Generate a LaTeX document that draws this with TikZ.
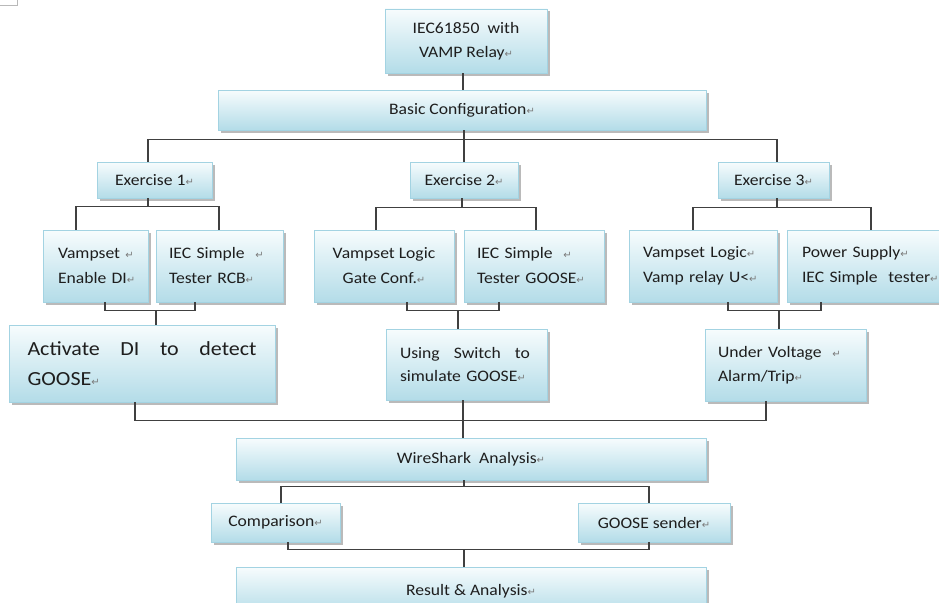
\documentclass[tikz,border=0pt]{standalone}
\usepackage{fontspec}
\setmainfont{Carlito}[FakeStretch=1.1]
\newfontfamily\arrowfont{DejaVu Sans}
\usetikzlibrary{shadows}
\definecolor{boxtop}{HTML}{F7FCFD}
\definecolor{boxbot}{HTML}{B3DCE8}
\definecolor{boxedge}{HTML}{A3D3E2}
\definecolor{linegray}{HTML}{404040}
\definecolor{txt}{HTML}{1E1E1E}
\definecolor{markgray}{HTML}{7A7A7A}
\newcommand\wret{{\arrowfont\fontsize{10}{10}\selectfont\textcolor{markgray}{↵}}}
\begin{document}
\begin{tikzpicture}[x=1pt,y=-1pt,
  box/.style={draw=boxedge, line width=0.8pt, top color=boxtop, bottom color=boxbot,
    drop shadow={shadow xshift=2.5pt, shadow yshift=-2.5pt, fill=black!45, opacity=0.6},
    inner sep=0pt, font=\fontsize{16}{25}\selectfont, text=txt},
  lbox/.style={box, align=left},
  cbox/.style={box, align=center},
  conn/.style={draw=linegray, line width=1.4pt}]
\fill[white] (0,0) rectangle (939,602);
\useasboundingbox (0,0) rectangle (939,602);
\clip (0,0) rectangle (939,602);
\draw[gray!55, line width=1pt] (0,5.5) -- (17,5.5) -- (17,0);

\node[cbox, minimum width=162pt, minimum height=64pt, font=\fontsize{16}{24}\selectfont] (top) at (466,41) {IEC61850\ \ with\\VAMP Relay\wret};
\node[cbox, minimum width=488pt, minimum height=40pt] (basic) at (462,110) {Basic Configuration\wret};
\node[cbox, minimum width=115pt, minimum height=36pt] (ex1) at (154.5,180) {Exercise 1\wret};
\node[cbox, minimum width=108pt, minimum height=36pt] (ex2) at (464,180) {Exercise 2\wret};
\node[cbox, minimum width=111pt, minimum height=36pt] (ex3) at (773.5,180) {Exercise 3\wret};

\node[lbox, minimum width=105pt, minimum height=72pt, text width=75pt] (s11) at (95.5,266) {\mbox{Vampset \wret}\\\mbox{Enable DI\wret}};
\node[lbox, minimum width=127pt, minimum height=72pt, text width=101pt] (s12) at (219.5,266) {\mbox{IEC Simple\ \ \wret}\\\mbox{Tester RCB\wret}};
\node[cbox, minimum width=140pt, minimum height=72pt] (s21) at (384,266) {Vampset Logic\\Gate Conf.\wret};
\node[lbox, minimum width=140pt, minimum height=72pt, text width=114pt] (s22) at (534,266) {\mbox{IEC Simple\ \ \wret}\\\mbox{Tester GOOSE\wret}};
\node[lbox, minimum width=148pt, minimum height=72pt, text width=120pt] (s31) at (703,266) {\mbox{Vampset Logic\wret}\\\mbox{Vamp relay U<\wret}};
\node[lbox, minimum width=158pt, minimum height=72pt, text width=128pt] (s32) at (866,266) {\mbox{Power Supply\wret}\\\mbox{IEC Simple\ \ tester\wret}};

\node[lbox, minimum width=266pt, minimum height=77pt, text width=229pt, font=\fontsize{20}{30}\selectfont] (act) at (142,363.5) {\hbox to 229pt{Activate\hfill DI\hfill to\hfill detect}\\GOOSE\wret};
\node[lbox, minimum width=161pt, minimum height=71pt, text width=133pt, font=\fontsize{16}{24}\selectfont] (sw) at (466.5,364.5) {\hbox to 130pt{Using\hfill Switch\hfill to}\\\mbox{simulate GOOSE\wret}};
\node[lbox, minimum width=161pt, minimum height=72pt, text width=135pt, font=\fontsize{16}{24}\selectfont] (uv) at (785.5,365) {\mbox{Under Voltage\ \ \wret}\\\mbox{Alarm/Trip\wret}};

\node[cbox, minimum width=470pt, minimum height=42pt] (ws) at (471,459) {WireShark\ \ Analysis\wret};
\node[cbox, minimum width=129pt, minimum height=39pt] (cmp) at (275.5,522.5) {Comparison\wret};
\node[cbox, minimum width=152pt, minimum height=39pt] (gs) at (654,522.5) {GOOSE sender\wret};
\node[cbox, minimum width=470pt, minimum height=48pt] (res) at (471,591) {Result \& Analysis\wret};

% connectors
\draw[conn] ([xshift=-3pt]top.south) -- ([xshift=-3pt]top.south |- basic.north);
\draw[conn] ([xshift=2pt]basic.south) -- ([xshift=2pt]basic.south |- ex2.north);
\draw[conn] ([xshift=-6.5pt]ex1.north) -- ++(0,-22) -| ([xshift=3.5pt]ex3.north);

\draw[conn] ([xshift=-6.5pt]ex1.south) -- ++(0,9);
\draw[conn] ([xshift=-19.5pt]s11.north) -- ++(0,-23) -| ([xshift=-0.5pt]s12.north);
\draw[conn] ([xshift=-2pt]ex2.south) -- ++(0,10);
\draw[conn] ([xshift=-8pt]s21.north) -- ++(0,-22) -| ([xshift=2pt]s22.north);
\draw[conn] ([xshift=3.5pt]ex3.south) -- ++(0,10);
\draw[conn] ([xshift=-10pt]s31.north) -- ++(0,-22) -| ([xshift=5pt]s32.north);

\draw[conn] ([xshift=9.5pt]s11.south) -- ++(0,8) -| ([xshift=-24.5pt]s12.south);
\draw[conn] ([xshift=14pt]act.north) -- ++(0,-15);
\draw[conn] ([xshift=23pt]s21.south) -- ++(0,8) -| ([xshift=-35pt]s22.south);
\draw[conn] ([xshift=-8.5pt]sw.north) -- ++(0,-19);
\draw[conn] ([xshift=25pt]s31.south) -- ++(0,8) -| ([xshift=-45pt]s32.south);
\draw[conn] ([xshift=-6.5pt]uv.north) -- ++(0,-19);

\draw[conn] ([xshift=-7pt]act.south) -- ++(0,18) -| ([xshift=-19.5pt]uv.south);
\draw[conn] ([xshift=-3.5pt]sw.south) -- ([xshift=-3.5pt]sw.south |- ws.north);

\draw[conn] ([xshift=-7pt]ws.south) -- ++(0,7);
\draw[conn] ([xshift=5.5pt]cmp.north) -- ++(0,-16) -| ([xshift=-5pt]gs.north);
\draw[conn] ([xshift=12.5pt]cmp.south) -- ++(0,7) -| ([xshift=-5pt]gs.south);
\draw[conn] ([xshift=-7pt]res.north) -- ++(0,-18);
\end{tikzpicture}
\end{document}
